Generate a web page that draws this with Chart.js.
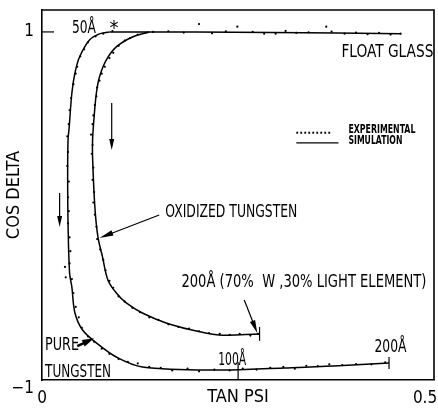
<!DOCTYPE html>
<html>
<head>
<meta charset="utf-8">
<script src="https://cdn.jsdelivr.net/npm/chart.js@4/dist/chart.umd.min.js"></script>
<style>
  html, body { margin: 0; padding: 0; background: #fff; }
  #wrap { width: 438px; height: 410px; }
</style>
</head>
<body>
<div id="wrap"><canvas id="ellipso"></canvas></div>
<script>
// simulation curves (tan psi, cos delta), thin film -> thick film
const pureTanPsi = [0.088, 0.075, 0.062, 0.049, 0.043, 0.039, 0.0355, 0.034, 0.0335, 0.034, 0.036, 0.039, 0.043, 0.053, 0.071, 0.097, 0.131, 0.231, 0.316, 0.381, 0.453];
const pureCosDelta = [1.000, 0.989, 0.954, 0.856, 0.764, 0.649, 0.454, 0.379, 0.190, -0.098, -0.385, -0.466, -0.615, -0.713, -0.787, -0.868, -0.925, -0.943, -0.931, -0.920, -0.902];

const oxTanPsi = [0.140, 0.118, 0.097, 0.084, 0.075, 0.071, 0.068, 0.066, 0.066, 0.069, 0.073, 0.079, 0.086, 0.097, 0.110, 0.131, 0.162, 0.196, 0.231, 0.284];
const oxCosDelta = [1.000, 0.971, 0.914, 0.839, 0.741, 0.649, 0.511, 0.379, 0.282, -0.006, -0.178, -0.293, -0.425, -0.500, -0.557, -0.615, -0.672, -0.713, -0.741, -0.736];

const glassTanPsi = [0.088, 0.200, 0.300, 0.469];
const glassCosDelta = [1.000, 1.000, 0.997, 0.990];

// experimental points
const expPureTanPsi = [0.092, 0.080, 0.070, 0.060, 0.055, 0.050, 0.046, 0.044, 0.041, 0.038, 0.036, 0.035, 0.033, 0.034, 0.033, 0.035, 0.034, 0.035, 0.034, 0.036, 0.030, 0.037, 0.031, 0.036, 0.039, 0.041, 0.044, 0.048, 0.052, 0.060, 0.068, 0.078, 0.088, 0.100, 0.112, 0.125, 0.140, 0.155, 0.170, 0.190, 0.205, 0.225, 0.245, 0.262, 0.280, 0.298, 0.315, 0.330, 0.345, 0.360, 0.375, 0.392, 0.410, 0.430, 0.448];
const expPureCosDelta = [1.005, 0.99, 0.975, 0.94, 0.90, 0.86, 0.80, 0.76, 0.70, 0.62, 0.55, 0.47, 0.40, 0.31, 0.23, 0.14, 0.05, -0.03, -0.10, -0.18, -0.35, -0.26, -0.41, -0.33, -0.42, -0.50, -0.58, -0.64, -0.70, -0.75, -0.78, -0.82, -0.85, -0.88, -0.895, -0.905, -0.925, -0.93, -0.945, -0.935, -0.95, -0.94, -0.945, -0.935, -0.94, -0.93, -0.925, -0.935, -0.918, -0.92, -0.91, -0.915, -0.908, -0.91, -0.898];

const expOxTanPsi = [0.145, 0.135, 0.125, 0.115, 0.108, 0.100, 0.093, 0.088, 0.082, 0.078, 0.075, 0.072, 0.071, 0.069, 0.067, 0.066, 0.064, 0.066, 0.065, 0.067, 0.066, 0.068, 0.067, 0.069, 0.071, 0.072, 0.076, 0.080, 0.083, 0.088, 0.093, 0.100, 0.108, 0.118, 0.128, 0.140, 0.152, 0.165, 0.178, 0.192, 0.205, 0.218, 0.232, 0.245, 0.258, 0.272, 0.282];
const expOxCosDelta = [1.0, 0.995, 0.985, 0.965, 0.95, 0.92, 0.88, 0.85, 0.80, 0.76, 0.72, 0.68, 0.63, 0.58, 0.52, 0.47, 0.41, 0.35, 0.30, 0.22, 0.15, 0.08, 0.02, -0.05, -0.12, -0.19, -0.25, -0.31, -0.37, -0.43, -0.47, -0.52, -0.55, -0.585, -0.61, -0.64, -0.655, -0.68, -0.695, -0.705, -0.72, -0.73, -0.735, -0.74, -0.735, -0.745, -0.735];

const expGlassTanPsi = [0.165, 0.185, 0.205, 0.222, 0.240, 0.255, 0.275, 0.290, 0.305, 0.318, 0.332, 0.348, 0.371, 0.378, 0.395, 0.410, 0.425, 0.440, 0.455, 0.468];
const expGlassCosDelta = [1.004, 0.996, 1.045, 0.992, 1.003, 1.03, 1.0, 0.99, 0.99, 1.006, 0.994, 0.998, 1.03, 1.002, 0.99, 0.996, 0.987, 0.994, 0.985, 0.99];

const xTicks = [0, 0.5];
const xTickLabels = ["0", "0.5"];
const yTicks = [-1, 1];
const yTickLabels = [["", "\u22121"], "1"];

const FONT = "'Liberation Sans Narrow', 'DejaVu Sans Condensed', 'Arial Narrow', sans-serif";
Chart.defaults.font.family = FONT;
Chart.defaults.color = "#000";

function toPoints(xs, ys) {
  return xs.map((x, i) => ({ x: x, y: ys[i] }));
}

function simLine(label, xs, ys) {
  return {
    label: label,
    data: toPoints(xs, ys),
    showLine: true,
    borderColor: "#000",
    borderWidth: 1.5,
    pointRadius: 0,
    tension: 0.35,
  };
}

function expDots(label, xs, ys) {
  return {
    label: label,
    data: toPoints(xs, ys),
    showLine: false,
    pointRadius: 1.1,
    pointBorderWidth: 0,
    pointBackgroundColor: "#000",
  };
}

// keep the plot frame where the reference has it
function noScalePadding(s) {
  s.paddingLeft = 0;
  s.paddingRight = 0;
  s.paddingTop = 0;
  s.paddingBottom = 0;
}

// text, arrows and frame drawn on top, positioned in data units
const annotations = {
  id: "annotations",
  afterDatasetsDraw(chart) {
    const { ctx, chartArea } = chart;
    const X = (v) => chart.scales.x.getPixelForValue(v);
    const Y = (v) => chart.scales.y.getPixelForValue(v);

    ctx.save();
    ctx.strokeStyle = "#000";
    ctx.fillStyle = "#000";

    // top and right frame
    ctx.lineWidth = 1.6;
    ctx.beginPath();
    ctx.moveTo(chartArea.left, chartArea.top);
    ctx.lineTo(chartArea.right, chartArea.top);
    ctx.lineTo(chartArea.right, chartArea.bottom);
    ctx.stroke();

    // inner tick at cos delta = 1
    ctx.lineWidth = 1.2;
    ctx.beginPath();
    ctx.moveTo(X(0), Y(1));
    ctx.lineTo(X(0) + 12, Y(1));
    ctx.stroke();

    function text(str, xv, yv, size, opts) {
      opts = opts || {};
      ctx.font = (opts.bold ? "bold " : "") + size + "px " + FONT;
      ctx.textAlign = opts.align || "left";
      ctx.textBaseline = "alphabetic";
      if (opts.maxW) ctx.fillText(str, X(xv), Y(yv), opts.maxW);
      else ctx.fillText(str, X(xv), Y(yv));
    }

    function arrow(x1, y1, x2, y2, len, half, lw) {
      const ax = X(x1), ay = Y(y1), bx = X(x2), by = Y(y2);
      const ang = Math.atan2(by - ay, bx - ax);
      ctx.lineWidth = lw || 1.2;
      ctx.beginPath();
      ctx.moveTo(ax, ay);
      ctx.lineTo(bx - Math.cos(ang) * len * 0.6, by - Math.sin(ang) * len * 0.6);
      ctx.stroke();
      ctx.beginPath();
      ctx.moveTo(bx, by);
      ctx.lineTo(bx - Math.cos(ang) * len - Math.sin(ang) * half, by - Math.sin(ang) * len + Math.cos(ang) * half);
      ctx.lineTo(bx - Math.cos(ang) * len + Math.sin(ang) * half, by - Math.sin(ang) * len - Math.cos(ang) * half);
      ctx.closePath();
      ctx.fill();
    }

    function vtick(xv, y1, y2) {
      ctx.lineWidth = 1.2;
      ctx.beginPath();
      ctx.moveTo(X(xv), Y(y1));
      ctx.lineTo(X(xv), Y(y2));
      ctx.stroke();
    }

    text("50\u00c5", 0.039, 0.994, 17, { maxW: 24 });
    text("*", 0.088, 0.99, 20);
    text("FLOAT GLASS", 0.511, 0.856, 18, { align: "right", maxW: 92 });

    // legend
    ctx.save();
    ctx.lineWidth = 2;
    ctx.setLineDash([1.8, 2.2]);
    ctx.beginPath();
    ctx.moveTo(X(0.332), Y(0.420));
    ctx.lineTo(X(0.378), Y(0.420));
    ctx.stroke();
    ctx.restore();
    ctx.lineWidth = 1.2;
    ctx.beginPath();
    ctx.moveTo(X(0.332), Y(0.362));
    ctx.lineTo(X(0.387), Y(0.362));
    ctx.stroke();
    text("EXPERIMENTAL", 0.400, 0.421, 12, { bold: true, maxW: 67 });
    text("SIMULATION", 0.400, 0.358, 12, { bold: true, maxW: 54 });

    text("OXIDIZED TUNGSTEN", 0.161, -0.063, 18, { maxW: 132 });
    arrow(0.153, -0.052, 0.075, -0.184, 14, 2.8);

    text("200\u00c5 (70%  W ,30% LIGHT ELEMENT)", 0.182, -0.466, 18, { maxW: 245 });
    arrow(0.264, -0.540, 0.281, -0.730, 13, 2.8);
    vtick(0.284, -0.695, -0.775);

    text("100\u00c5", 0.230, -0.914, 17, { maxW: 28 });
    vtick(0.256, -0.897, -1.0);
    text("200\u00c5", 0.434, -0.839, 17, { maxW: 32 });
    vtick(0.453, -0.868, -0.937);

    text("PURE", 0.004, -0.828, 17, { maxW: 34 });
    text("TUNGSTEN", 0.004, -0.983, 17, { maxW: 66 });
    arrow(0.046, -0.805, 0.068, -0.760, 12, 3.5, 2.5);

    arrow(0.091, 0.592, 0.091, 0.322, 11, 2.5);
    arrow(0.023, 0.075, 0.023, -0.121, 11, 2.5);

    ctx.restore();
  },
};

new Chart(document.getElementById("ellipso"), {
  type: "scatter",
  data: {
    datasets: [
      simLine("Pure tungsten", pureTanPsi, pureCosDelta),
      simLine("Oxidized tungsten", oxTanPsi, oxCosDelta),
      simLine("Float glass", glassTanPsi, glassCosDelta),
      expDots("Experimental pure", expPureTanPsi, expPureCosDelta),
      expDots("Experimental oxidized", expOxTanPsi, expOxCosDelta),
      expDots("Experimental glass", expGlassTanPsi, expGlassCosDelta),
    ],
  },
  options: {
    responsive: true,
    maintainAspectRatio: false,
    animation: false,
    layout: { padding: { left: 0, top: 10, right: 2, bottom: 2 } },
    plugins: {
      legend: { display: false },
      tooltip: { enabled: false },
    },
    scales: {
      x: {
        type: "linear",
        min: 0,
        max: 0.5117,
        grid: { display: false, drawTicks: false },
        border: { color: "#000", width: 1.6 },
        afterBuildTicks: (s) => { s.ticks = xTicks.map((v) => ({ value: v })); },
        afterFit: (s) => { s.height = 28; noScalePadding(s); },
        ticks: {
          font: { size: 17 },
          padding: 8,
          maxRotation: 0,
          autoSkip: false,
          callback: (v) => xTickLabels[xTicks.indexOf(v)],
        },
        title: {
          display: true,
          text: "TAN PSI",
          font: { size: 18 },
          padding: { top: 0, bottom: 0 },
        },
      },
      y: {
        min: -1,
        max: 1.126,
        grid: { display: false, drawTicks: false },
        border: { color: "#000", width: 1.6 },
        afterBuildTicks: (s) => { s.ticks = yTicks.map((v) => ({ value: v })); },
        afterFit: (s) => { s.width = 42; noScalePadding(s); },
        ticks: {
          font: { size: 17, lineHeight: 1 },
          padding: 8,
          autoSkip: false,
          callback: (v) => yTickLabels[yTicks.indexOf(v)],
        },
        title: {
          display: true,
          text: "COS DELTA",
          font: { size: 18 },
          padding: { top: 4, bottom: 0 },
        },
      },
    },
  },
  plugins: [annotations],
});
</script>
</body>
</html>
